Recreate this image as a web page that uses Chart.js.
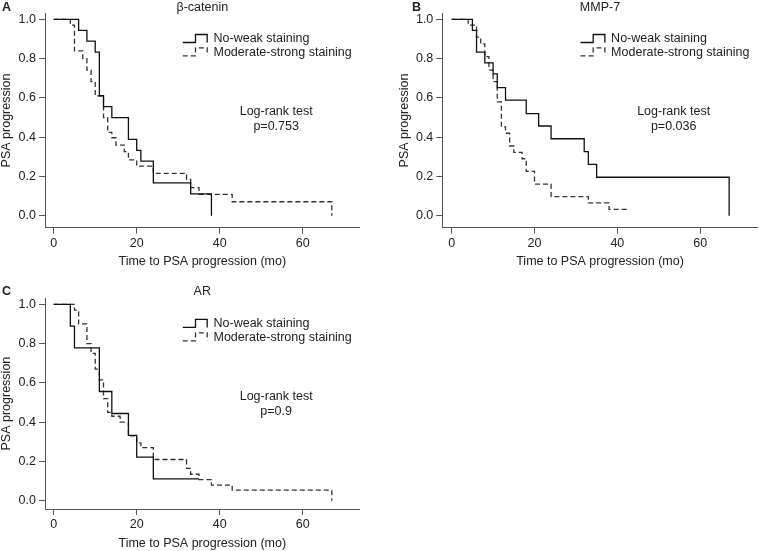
<!DOCTYPE html>
<html>
<head>
<meta charset="utf-8">
<script src="https://cdn.jsdelivr.net/npm/chart.js@4.4.1/dist/chart.umd.min.js"></script>
<style>
body{margin:0;background:#fff;}
#wrap{position:relative;width:759px;height:551px;}
canvas{position:absolute;}
</style>
</head>
<body>
<div id="wrap">
<canvas id="panelA" width="380" height="270" style="left:0;top:0"></canvas>
<canvas id="panelB" width="379" height="270" style="left:380px;top:0"></canvas>
<canvas id="panelC" width="380" height="281" style="left:0;top:270px"></canvas>
</div>
<script>
const FONT = '"Liberation Sans", Arial, sans-serif';
const INK = '#222';

// axes
const timeTicks = [0, 20, 40, 60];
const psaTicks = [0, 0.2, 0.4, 0.6, 0.8, 1.0];
const groupNames = ['No-weak staining', 'Moderate-strong staining'];

// A: beta-catenin (months, fraction without progression)
const cateninWeakTime = [0, 6, 8, 10, 11, 12, 14, 18, 20, 21, 24, 33, 38];
const cateninWeakPsa  = [1, 0.944, 0.889, 0.833, 0.611, 0.556, 0.5, 0.389, 0.333, 0.278, 0.167, 0.111, 0];
const cateninStrongTime = [0, 4, 5, 7, 8, 9, 10, 12, 13, 14, 15, 17, 18, 20, 24, 32, 33, 35, 43, 67];
const cateninStrongPsa  = [1, 0.971, 0.84, 0.80, 0.742, 0.683, 0.61, 0.5, 0.424, 0.397, 0.36, 0.326, 0.284, 0.253, 0.216, 0.185, 0.143, 0.109, 0.071, 0];

// B: MMP-7
const mmpWeakTime = [0, 5, 6, 8, 10, 11, 13, 18, 21, 24, 32, 33, 35, 67];
const mmpWeakPsa  = [1, 0.944, 0.833, 0.778, 0.722, 0.652, 0.589, 0.52, 0.457, 0.392, 0.326, 0.261, 0.196, 0];
const mmpStrongTime = [0, 4, 6, 7, 8, 9, 10, 11, 12, 13, 14, 15, 17, 18, 20, 24, 33, 38, 43];
const mmpStrongPsa  = [1, 0.971, 0.91, 0.875, 0.81, 0.742, 0.683, 0.58, 0.452, 0.42, 0.355, 0.323, 0.29, 0.226, 0.161, 0.097, 0.065, 0.032, 0.032];

// C: AR
const arWeakTime = [0, 4, 5, 11, 14, 18, 20, 24, 35];
const arWeakPsa  = [1, 0.889, 0.778, 0.556, 0.444, 0.333, 0.222, 0.111, 0.111];
const arStrongTime = [0, 5, 6, 8, 9, 10, 11, 12, 13, 14, 16, 18, 20, 21, 24, 32, 33, 35, 38, 43, 67];
const arStrongPsa  = [1, 0.97, 0.90, 0.80, 0.75, 0.67, 0.615, 0.52, 0.45, 0.43, 0.40, 0.33, 0.295, 0.27, 0.21, 0.165, 0.135, 0.108, 0.08, 0.054, 0];

const pValues = ['p=0.753', 'p=0.036', 'p=0.9'];

function toPoints(times, vals){ return times.map((t, i) => ({x: t, y: vals[i]})); }

// text, legend and panel letter
const annotate = {
  id: 'annotate',
  afterDraw(chart, args, o){
    const {ctx, chartArea: a, scales: {x, y}} = chart;
    const top = y.getPixelForValue(1);
    ctx.save();
    ctx.fillStyle = INK;
    ctx.textBaseline = 'middle';

    ctx.font = `bold 12.5px ${FONT}`;
    ctx.textAlign = 'left';
    ctx.fillText(o.letter, o.letterX, top - 12.3);

    ctx.font = `12.5px ${FONT}`;
    ctx.textAlign = 'center';
    ctx.fillText(o.title, (a.left + a.right) / 2, top - 12.3);

    // log-rank
    ctx.fillText('Log-rank test', x.getPixelForValue(53.6), y.getPixelForValue(0.53));
    ctx.fillText(o.p, x.getPixelForValue(53.6), y.getPixelForValue(0.454));

    // axis titles
    ctx.fillText('Time to PSA progression (mo)', (a.left + a.right) / 2, a.bottom + 34.3);
    ctx.save();
    ctx.translate(a.left - 38, (a.top + a.bottom) / 2);
    ctx.rotate(-Math.PI / 2);
    ctx.fillText('PSA progression', 0, 0);
    ctx.restore();

    // legend
    const x0 = x.getPixelForValue(31.1);
    const xt = x.getPixelForValue(38.5);
    [0.90, 0.832].forEach((lv, i) => {
      const ds = chart.data.datasets[i];
      const yc = y.getPixelForValue(lv);
      ctx.beginPath();
      ctx.strokeStyle = ds.borderColor;
      ctx.lineWidth = ds.borderWidth;
      ctx.setLineDash(ds.borderDash || []);
      ctx.moveTo(x0, yc + 3.5);
      ctx.lineTo(x0 + 12.7, yc + 3.5);
      ctx.lineTo(x0 + 12.7, yc - 4.5);
      ctx.lineTo(x0 + 24.4, yc - 4.5);
      ctx.lineTo(x0 + 24.4, yc + 3.5);
      ctx.stroke();
      ctx.setLineDash([]);
      ctx.textAlign = 'left';
      ctx.fillText(ds.label, xt, yc);
    });
    ctx.restore();
  }
};

function makePanel(id, p){
  const axisInk = '#555';
  return new Chart(document.getElementById(id), {
    type: 'line',
    data: {
      datasets: [
        { label: groupNames[0], data: toPoints(p.weakT, p.weakS), stepped: true,
          borderColor: '#111', borderWidth: 1.3, pointRadius: 0, fill: false },
        { label: groupNames[1], data: toPoints(p.strongT, p.strongS), stepped: true,
          borderColor: '#333', borderWidth: 1.3, borderDash: [5, 3], pointRadius: 0, fill: false }
      ]
    },
    options: {
      responsive: false,
      animation: false,
      devicePixelRatio: 1,
      layout: { padding: { left: 0, right: p.padRight, top: p.padTop, bottom: 0 } },
      plugins: {
        legend: { display: false },
        tooltip: { enabled: false },
        annotate: { letter: p.letter, letterX: p.letterX, title: p.title, p: p.p }
      },
      scales: {
        x: {
          type: 'linear', min: p.xMin, max: p.xMax,
          afterBuildTicks: s => { s.ticks = timeTicks.map(v => ({value: v})); },
          afterFit: s => { s.height = p.xHeight; },
          grid: { drawOnChartArea: false, drawTicks: true, tickLength: 6, color: axisInk },
          border: { display: true, color: axisInk, width: 1 },
          ticks: { color: INK, font: { family: FONT, size: 12.5 }, padding: 2, maxRotation: 0,
                   callback: v => String(v) }
        },
        y: {
          type: 'linear', min: p.yMin, max: p.yMax,
          afterBuildTicks: s => { s.ticks = psaTicks.map(v => ({value: v})); },
          afterFit: s => { s.width = p.yWidth; },
          grid: { drawOnChartArea: false, drawTicks: true, tickLength: 6, color: axisInk },
          border: { display: true, color: axisInk, width: 1 },
          ticks: { color: INK, font: { family: FONT, size: 12.5 }, padding: 3,
                   callback: v => Number(v).toFixed(1) }
        }
      }
    },
    plugins: [annotate]
  });
}

makePanel('panelA', {
  letter: 'A', letterX: 2, title: '\u03b2-catenin', p: pValues[0],
  weakT: cateninWeakTime, weakS: cateninWeakPsa, strongT: cateninStrongTime, strongS: cateninStrongPsa,
  xMin: -2.1, xMax: 73.7, yMin: -0.0611, yMax: 1.031,
  yWidth: 45, xHeight: 42.3, padTop: 13.3, padRight: 20.4
});
makePanel('panelB', {
  letter: 'B', letterX: 32, title: 'MMP-7', p: pValues[1],
  weakT: mmpWeakTime, weakS: mmpWeakPsa, strongT: mmpStrongTime, strongS: mmpStrongPsa,
  xMin: -2.27, xMax: 73.9, yMin: -0.0611, yMax: 1.031,
  yWidth: 62.3, xHeight: 42.3, padTop: 13.3, padRight: 1.3
});
makePanel('panelC', {
  letter: 'C', letterX: 2, title: 'AR', p: pValues[2],
  weakT: arWeakTime, weakS: arWeakPsa, strongT: arStrongTime, strongS: arStrongPsa,
  xMin: -2.1, xMax: 73.7, yMin: -0.042, yMax: 1.031,
  yWidth: 45, xHeight: 42, padTop: 28.2, padRight: 20.4
});
</script>
</body>
</html>
